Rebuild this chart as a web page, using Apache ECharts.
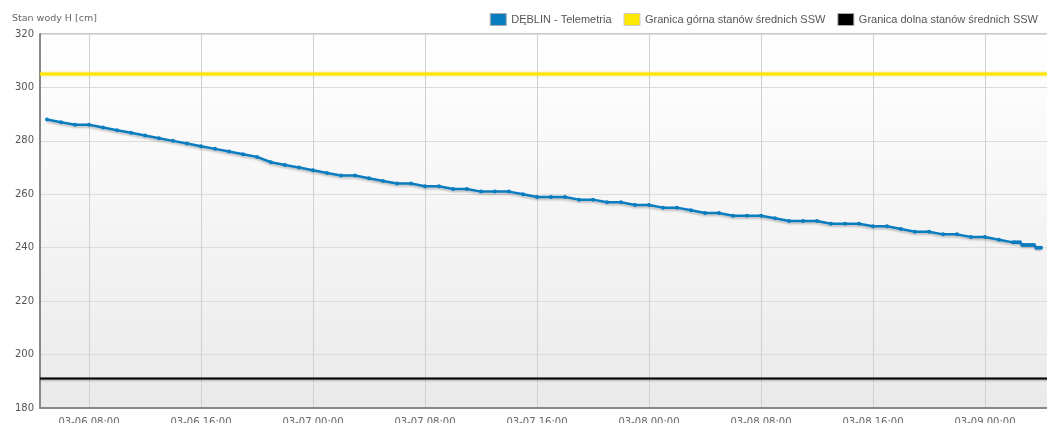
<!DOCTYPE html>
<html>
<head>
<meta charset="utf-8">
<script src="https://cdn.jsdelivr.net/npm/echarts@6/dist/echarts.min.js"></script>
<style>
  html, body { margin: 0; padding: 0; background: #fff; }
  #chart { width: 1047px; height: 423px; }
</style>
</head>
<body>
<div id="chart"></div>
<script>
// czas pomiaru (rok przyjęty umownie)
const times = [
  '2024-03-06 05:00', '2024-03-06 06:00', '2024-03-06 07:00', '2024-03-06 08:00', '2024-03-06 09:00',
  '2024-03-06 10:00', '2024-03-06 11:00', '2024-03-06 12:00', '2024-03-06 13:00', '2024-03-06 14:00',
  '2024-03-06 15:00', '2024-03-06 16:00', '2024-03-06 17:00', '2024-03-06 18:00', '2024-03-06 19:00',
  '2024-03-06 20:00', '2024-03-06 21:00', '2024-03-06 22:00', '2024-03-06 23:00',
  '2024-03-07 00:00', '2024-03-07 01:00', '2024-03-07 02:00', '2024-03-07 03:00', '2024-03-07 04:00',
  '2024-03-07 05:00', '2024-03-07 06:00', '2024-03-07 07:00', '2024-03-07 08:00', '2024-03-07 09:00',
  '2024-03-07 10:00', '2024-03-07 11:00', '2024-03-07 12:00', '2024-03-07 13:00', '2024-03-07 14:00',
  '2024-03-07 15:00', '2024-03-07 16:00', '2024-03-07 17:00', '2024-03-07 18:00', '2024-03-07 19:00',
  '2024-03-07 20:00', '2024-03-07 21:00', '2024-03-07 22:00', '2024-03-07 23:00',
  '2024-03-08 00:00', '2024-03-08 01:00', '2024-03-08 02:00', '2024-03-08 03:00', '2024-03-08 04:00',
  '2024-03-08 05:00', '2024-03-08 06:00', '2024-03-08 07:00', '2024-03-08 08:00', '2024-03-08 09:00',
  '2024-03-08 10:00', '2024-03-08 11:00', '2024-03-08 12:00', '2024-03-08 13:00', '2024-03-08 14:00',
  '2024-03-08 15:00', '2024-03-08 16:00', '2024-03-08 17:00', '2024-03-08 18:00', '2024-03-08 19:00',
  '2024-03-08 20:00', '2024-03-08 21:00', '2024-03-08 22:00', '2024-03-08 23:00',
  '2024-03-09 00:00', '2024-03-09 01:00', '2024-03-09 02:00',
  '2024-03-09 02:10', '2024-03-09 02:20', '2024-03-09 02:30', '2024-03-09 02:40', '2024-03-09 02:50',
  '2024-03-09 03:00', '2024-03-09 03:10', '2024-03-09 03:20', '2024-03-09 03:30', '2024-03-09 03:40',
  '2024-03-09 03:50', '2024-03-09 04:00'
];

// stan wody DĘBLIN [cm]
const levels = [
  288, 287, 286, 286, 285, 284, 283, 282, 281, 280, 279, 278, 277, 276, 275, 274, 272, 271, 270,
  269, 268, 267, 267, 266, 265, 264, 264, 263, 263, 262, 262, 261, 261, 261, 260, 259, 259, 259, 258, 258, 257, 257, 256,
  256, 255, 255, 254, 253, 253, 252, 252, 252, 251, 250, 250, 250, 249, 249, 249, 248, 248, 247, 246, 246, 245, 245, 244,
  244, 243, 242,
  242, 242, 242, 241, 241, 241, 241, 241, 241, 240, 240, 240
];

// granice stanów średnich SSW
const sswUpper = 305;
const sswLower = 191;

// zakres osi X i etykiety
const axisStart = '2024-03-06 04:30';
const axisEnd = '2024-03-09 04:30';
const xTicks = [
  '2024-03-06 08:00', '2024-03-06 16:00', '2024-03-07 00:00', '2024-03-07 08:00', '2024-03-07 16:00',
  '2024-03-08 00:00', '2024-03-08 08:00', '2024-03-08 16:00', '2024-03-09 00:00'
];
const yTicks = [180, 200, 220, 240, 260, 280, 300, 320];

const toMs = (s) => new Date(s.replace(' ', 'T')).getTime();
const pad = (n) => (n < 10 ? '0' + n : '' + n);

const chart = echarts.init(document.getElementById('chart'));

const tickFont = '"DejaVu Sans", Verdana, sans-serif';
const legendFont = 'Arial, "Liberation Sans", sans-serif';

const option = {
  animation: false,
  title: {
    text: 'Stan wody H [cm]',
    left: 7,
    top: 9,
    textStyle: { fontSize: 9.5, fontWeight: 'normal', color: '#666', fontFamily: tickFont }
  },
  legend: {
    right: 4,
    top: 8,
    itemWidth: 16,
    itemHeight: 12,
    itemGap: 12,
    icon: 'rect',
    textStyle: { fontSize: 11, color: '#555', fontFamily: legendFont },
    data: [
      { name: 'DĘBLIN - Telemetria', itemStyle: { color: '#0a7cc0', borderColor: '#aaa', borderWidth: 1 } },
      { name: 'Granica górna stanów średnich SSW', itemStyle: { color: '#ffe800', borderColor: '#ccc', borderWidth: 1 } },
      { name: 'Granica dolna stanów średnich SSW', itemStyle: { color: '#000', borderColor: '#aaa', borderWidth: 1 } }
    ]
  },
  grid: {
    left: 40,
    right: -1,
    top: 34,
    bottom: 15,
    outerBoundsMode: 'none',
    show: true,
    borderColor: '#999',
    borderWidth: 1,
    backgroundColor: new echarts.graphic.LinearGradient(0, 0, 0, 1, [
      { offset: 0, color: '#ffffff' },
      { offset: 1, color: '#eaeaea' }
    ])
  },
  xAxis: {
    type: 'value',
    min: toMs(axisStart),
    max: toMs(axisEnd),
    axisLine: { lineStyle: { color: '#888', width: 2 } },
    axisTick: { show: false, customValues: xTicks.map(toMs) },
    axisLabel: {
      customValues: xTicks.map(toMs),
      margin: 9,
      fontSize: 10,
      color: '#666',
      fontFamily: tickFont,
      formatter: (v) => {
        const d = new Date(v);
        return pad(d.getMonth() + 1) + '-' + pad(d.getDate()) + ' ' + pad(d.getHours()) + ':' + pad(d.getMinutes());
      }
    },
    splitLine: { show: true, lineStyle: { color: '#d0d0d0', width: 1 } }
  },
  yAxis: {
    type: 'value',
    min: yTicks[0],
    max: yTicks[yTicks.length - 1],
    interval: 20,
    axisLine: { show: true, lineStyle: { color: '#888', width: 2 } },
    axisTick: { show: false },
    axisLabel: { fontSize: 10, color: '#555', margin: 6, fontFamily: tickFont },
    splitLine: { lineStyle: { color: '#dcdcdc', width: 1 } }
  },
  series: [
    {
      name: 'Granica górna stanów średnich SSW',
      type: 'line',
      data: [[toMs(axisStart), sswUpper], [toMs(axisEnd), sswUpper]],
      symbol: 'none',
      itemStyle: { color: '#ffe800' },
      lineStyle: { color: '#ffe600', width: 3, shadowColor: 'rgba(230,200,0,0.5)', shadowBlur: 3 },
      z: 3
    },
    {
      name: 'Granica dolna stanów średnich SSW',
      type: 'line',
      data: [[toMs(axisStart), sswLower], [toMs(axisEnd), sswLower]],
      symbol: 'none',
      itemStyle: { color: '#000' },
      lineStyle: { color: '#000', width: 2, shadowColor: 'rgba(0,0,0,0.35)', shadowBlur: 2, shadowOffsetY: 1 },
      z: 3
    },
    {
      name: 'DĘBLIN - Telemetria',
      type: 'line',
      data: times.map((t, i) => [toMs(t), levels[i]]),
      symbol: 'circle',
      symbolSize: 4,
      showSymbol: true,
      itemStyle: { color: '#0a7cc0' },
      lineStyle: {
        color: '#0a7cc0',
        width: 2.5,
        shadowColor: 'rgba(0,0,0,0.22)',
        shadowBlur: 2,
        shadowOffsetY: 2
      },
      z: 4
    }
  ]
};

chart.setOption(option);
</script>
</body>
</html>
